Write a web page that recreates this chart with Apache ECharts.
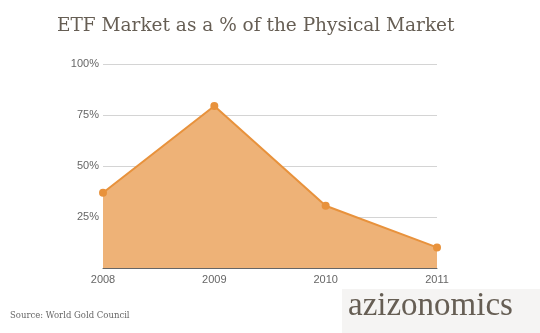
<!DOCTYPE html>
<html>
<head>
<meta charset="utf-8">
<script src="https://cdn.jsdelivr.net/npm/echarts@6/dist/echarts.min.js"></script>
<style>
html, body { margin: 0; padding: 0; background: #ffffff; }
#chart { width: 540px; height: 333px; }
</style>
</head>
<body>
<div id="chart"></div>
<script>
// ETF holdings as a share of the physical gold market, by year
const years = ['2008', '2009', '2010', '2011'];
const etfShare = [36.9, 79.4, 30.5, 10.1];
const yTicks = [0, 25, 50, 75, 100];

const chart = echarts.init(document.getElementById('chart'));

chart.setOption({
  backgroundColor: '#ffffff',
  animation: false,
  title: {
    text: 'ETF Market as a % of the Physical Market',
    left: 52,
    top: 12,
    textStyle: {
      fontFamily: 'DejaVu Serif',
      fontSize: 18.5,
      fontWeight: 'normal',
      color: '#665e54'
    }
  },
  grid: { left: 103, right: 103, top: 64, bottom: 65 },
  xAxis: {
    type: 'category',
    data: years,
    boundaryGap: false,
    axisLine: { lineStyle: { color: '#666', width: 1 } },
    axisTick: { show: false },
    axisLabel: {
      color: '#666',
      fontFamily: 'Liberation Sans',
      fontSize: 11,
      margin: 6
    },
    splitLine: { show: false }
  },
  yAxis: {
    type: 'value',
    min: yTicks[0],
    max: yTicks[yTicks.length - 1],
    interval: 25,
    axisLine: { show: false },
    axisTick: { show: false },
    axisLabel: {
      color: '#666',
      fontFamily: 'Liberation Sans',
      fontSize: 11,
      margin: 4,
      formatter: v => (v === 0 ? '' : v + '%')
    },
    splitLine: { lineStyle: { color: '#d4d4d4', width: 1 } }
  },
  series: [{
    type: 'line',
    data: etfShare,
    symbol: 'circle',
    symbolSize: 8,
    itemStyle: { color: '#e8923c' },
    lineStyle: { color: '#e8923c', width: 2 },
    areaStyle: { color: '#eeb277', opacity: 1 },
    z: 3
  }],
  graphic: [
    {
      type: 'text',
      left: 10,
      top: 311,
      style: {
        text: 'Source: World Gold Council',
        fontFamily: 'DejaVu Serif',
        fontSize: 8.5,
        fill: '#666'
      }
    },
    {
      type: 'rect',
      shape: { x: 342, y: 289, width: 198, height: 44 },
      style: { fill: '#f5f4f3' }
    },
    {
      type: 'text',
      left: 348,
      top: 290,
      style: {
        text: 'azizonomics',
        fontFamily: 'Liberation Serif',
        fontSize: 33,
        fill: '#665e54'
      }
    }
  ]
});
</script>
</body>
</html>
